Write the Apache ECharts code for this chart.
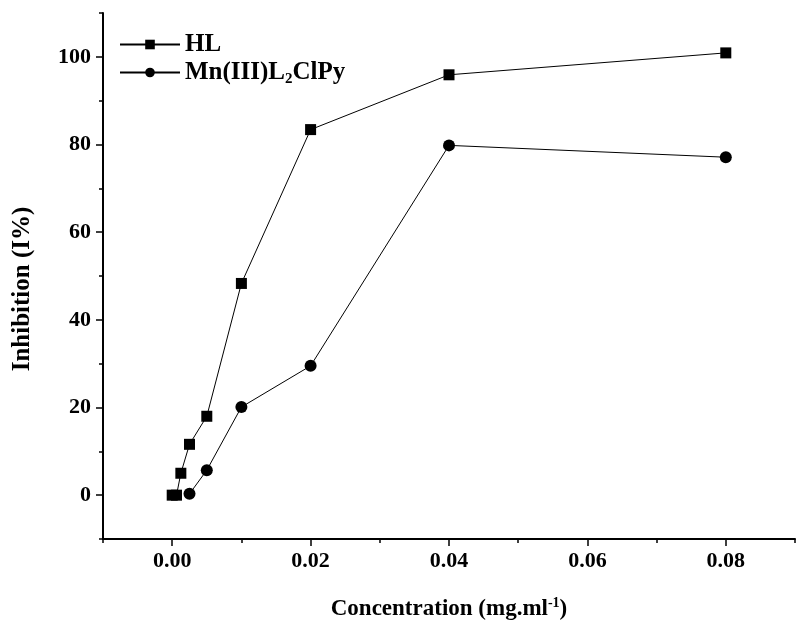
<!DOCTYPE html>
<html>
<head>
<meta charset="utf-8">
<script src="https://cdn.jsdelivr.net/npm/echarts@6/dist/echarts.min.js"></script>
<style>html,body{margin:0;padding:0;background:#fff}#c{width:800px;height:626px}</style>
</head>
<body>
<div id="c"></div>
<script>
const hlX = [0, 0.000625, 0.00125, 0.0025, 0.005, 0.01, 0.02, 0.04, 0.08];
const hlY = [0, 0, 5.0, 11.6, 18.0, 48.3, 83.4, 95.9, 100.9];
const mnX = [0.0025, 0.005, 0.01, 0.02, 0.04, 0.08];
const mnY = [0.3, 5.7, 20.1, 29.5, 79.8, 77.1];
const xMajor = [0, 0.02, 0.04, 0.06, 0.08];
const yMajor = [0, 20, 40, 60, 80, 100];
const seriesNames = ['HL', 'Mn(III)L2ClPy'];

const FONT = '"Liberation Serif", "Times New Roman", serif';
const gridBox = {left: 103, right: 5, top: 13, bottom: 87};

const chart = echarts.init(document.getElementById('c'), null, {renderer: 'canvas'});
const pairs = (xs, ys) => xs.map((x, i) => [x, ys[i]]);

chart.setOption({
  animation: false,
  backgroundColor: '#fff',
  grid: [Object.assign({}, gridBox), Object.assign({}, gridBox)],
  legend: {
    left: 119, top: 32, orient: 'vertical', itemGap: 3, padding: 0,
    itemWidth: 60, itemHeight: 12,
    data: seriesNames,
    textStyle: {fontFamily: FONT, fontWeight: 'bold', fontSize: 25, color: '#000',
      rich: {sub: {fontFamily: FONT, fontWeight: 'bold', fontSize: 15, color: '#000', verticalAlign: 'bottom', padding: [14, 0, 0, 0]}}},
    formatter: n => n === seriesNames[1] ? 'Mn(III)L{sub|2}ClPy' : n
  },
  xAxis: [{
    type: 'value', gridIndex: 0, min: -0.01, max: 0.09, interval: 0.01,
    splitLine: {show: false},
    axisLine: {onZero: false, lineStyle: {color: '#000', width: 2}},
    axisTick: {inside: false, length: 4, lineStyle: {color: '#000', width: 1.5}},
    axisLabel: {margin: 11, fontFamily: FONT, fontWeight: 'bold', fontSize: 22, color: '#000',
      formatter: v => { const r = Math.round(v * 100); return (r >= 0 && r <= 8 && r % 2 === 0) ? (r / 100).toFixed(2) : ''; }},
    name: 'Concentration (mg.ml{sup|-1})', nameLocation: 'middle', nameGap: 57,
    nameTextStyle: {fontFamily: FONT, fontWeight: 'bold', fontSize: 23, color: '#000',
      rich: {sup: {fontFamily: FONT, fontWeight: 'bold', fontSize: 14, color: '#000', verticalAlign: 'top', padding: [0, 0, 12, 0]}}}
  }, {
    type: 'value', gridIndex: 1, min: -0.01, max: 0.09,
    splitLine: {show: false},
    axisLine: {show: false, onZero: false},
    axisTick: {inside: false, length: 7, customValues: xMajor, lineStyle: {color: '#000', width: 1.5}},
    axisLabel: {show: false}
  }],
  yAxis: [{
    type: 'value', gridIndex: 0, min: -10, max: 110, interval: 10,
    splitLine: {show: false},
    axisLine: {onZero: false, lineStyle: {color: '#000', width: 2}},
    axisTick: {inside: false, length: 4, lineStyle: {color: '#000', width: 1.5}},
    axisLabel: {margin: 12, fontFamily: FONT, fontWeight: 'bold', fontSize: 22, color: '#000',
      formatter: v => (v >= 0 && v <= 100 && Math.round(v) % 20 === 0) ? String(Math.round(v)) : ''},
    name: 'Inhibition (I%)', nameLocation: 'middle', nameGap: 68, nameRotate: 90,
    nameTextStyle: {fontFamily: FONT, fontWeight: 'bold', fontSize: 25, color: '#000', padding: [0, 26, 0, 0]}
  }, {
    type: 'value', gridIndex: 1, min: -10, max: 110,
    splitLine: {show: false},
    axisLine: {show: false, onZero: false},
    axisTick: {inside: false, length: 7, customValues: yMajor, lineStyle: {color: '#000', width: 1.5}},
    axisLabel: {show: false}
  }],
  series: [{
    name: seriesNames[0], type: 'line', xAxisIndex: 0, yAxisIndex: 0,
    data: pairs(hlX, hlY), symbol: 'rect', symbolSize: 11,
    lineStyle: {color: '#000', width: 1}, itemStyle: {color: '#000'}
  }, {
    name: seriesNames[1], type: 'line', xAxisIndex: 0, yAxisIndex: 0,
    data: pairs(mnX, mnY), symbol: 'circle', symbolSize: 12,
    lineStyle: {color: '#000', width: 1}, itemStyle: {color: '#000'}
  }]
});
</script>
</body>
</html>
